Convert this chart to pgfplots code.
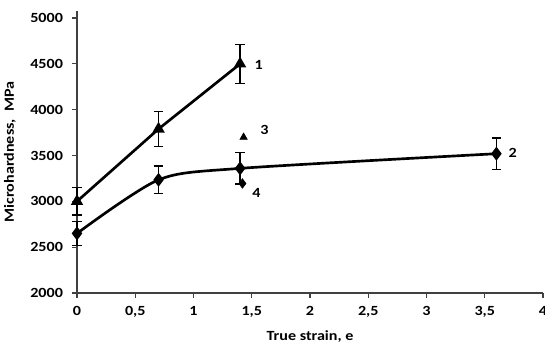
\documentclass[border=0pt]{standalone}
\usepackage{fontspec}
\setmainfont{Carlito}[FakeStretch=1.15]
\usepackage{pgfplots}
\pgfplotsset{compat=1.18}
\begin{document}
\begin{tikzpicture}
\useasboundingbox (-57.75pt,-43.5pt) rectangle (351pt,219.75pt);
\begin{axis}[
  scale only axis,
  width=349.5pt, height=211.7pt,
  xmin=0, xmax=4, ymin=2000, ymax=5080,
  xtick={0,0.5,...,4}, ytick={2000,2500,...,5000},
  axis x line*=bottom, axis y line*=left,
  axis line style={line width=0.9pt, black!75},
  tick style={line width=0.9pt, black!75},
  tick align=outside, major tick length=3.5pt,
  /pgf/number format/assume math mode=true,
  /pgf/number format/use comma,
  /pgf/number format/1000 sep={},
  ticklabel style={font=\fontsize{10.5}{12}\selectfont\bfseries},
  xticklabel style={yshift=-3pt},
  yticklabel style={xshift=-3.5pt},
  xlabel={True strain, e}, ylabel={Microhardness,\ \ MPa},
  label style={font=\fontsize{10.5}{12}\selectfont\bfseries},
  xlabel style={yshift=-3pt},
  ylabel style={yshift=4pt},
  clip=false,
  error bars/error bar style={line width=1pt, black},
  error bars/error mark options={rotate=90, mark size=3.5pt, line width=1pt, black},
]
\addplot[line width=2pt, black, mark=triangle*, mark size=3.4pt,
  error bars/.cd, y dir=both, y explicit]
  coordinates {(0,3000) +- (0,150) (0.7,3790) +- (0,190) (1.4,4500) +- (0,215)};
\addplot[line width=2pt, black, smooth, tension=0.45, mark=diamond*, mark size=3.6pt,
  error bars/.cd, y dir=both, y explicit]
  coordinates {(0,2650) +- (0,130) (0.7,3235) +- (0,150) (1.4,3360) +- (0,170) (3.6,3520) +- (0,170)};
\addplot[only marks, black, mark=triangle*, mark size=3.2pt] coordinates {(1.43,3700)};
\addplot[only marks, black, mark=diamond*, mark size=3.6pt] coordinates {(1.42,3195)};
\node[font=\fontsize{10.5}{12}\selectfont\bfseries] at (axis cs:1.56,4490) {1};
\node[font=\fontsize{10.5}{12}\selectfont\bfseries] at (axis cs:3.74,3527) {2};
\node[font=\fontsize{10.5}{12}\selectfont\bfseries] at (axis cs:1.61,3775) {3};
\node[font=\fontsize{10.5}{12}\selectfont\bfseries] at (axis cs:1.54,3090) {4};
\end{axis}
\end{tikzpicture}
\end{document}
